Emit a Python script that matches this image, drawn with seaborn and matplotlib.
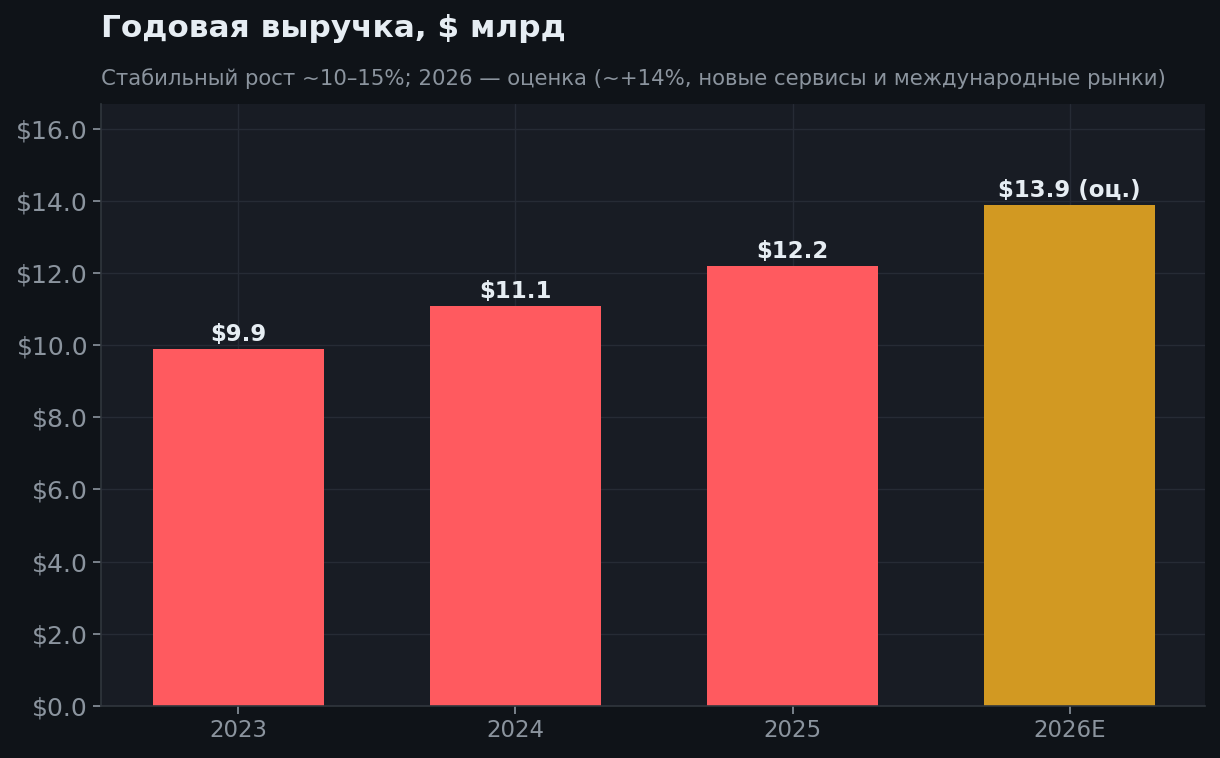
import matplotlib
matplotlib.use("Agg")
import matplotlib.pyplot as plt
import seaborn as sns
import pandas as pd

years = ["2023", "2024", "2025", "2026E"]
revenue = [9.9, 11.1, 12.2, 13.9]
labels = ["$9.9", "$11.1", "$12.2", "$13.9 (оц.)"]
bar_colors = ["#ff5a5f", "#ff5a5f", "#ff5a5f", "#d29922"]

fig_bg = "#0f1318"
ax_bg = "#181c24"
grid_c = "#262b35"
tick_c = "#8b949e"
text_c = "#e6edf3"

sns.set_theme(style="darkgrid")
plt.rcParams["font.family"] = ["DejaVu Sans"]

df = pd.DataFrame({"year": years, "revenue": revenue})

fig, ax = plt.subplots(figsize=(12.2, 7.58), dpi=100)
fig.patch.set_facecolor(fig_bg)
ax.set_facecolor(ax_bg)
fig.subplots_adjust(left=0.083, right=0.988, top=0.863, bottom=0.069)

sns.barplot(data=df, x="year", y="revenue", hue="year", palette=bar_colors,
            legend=False, width=0.62, saturation=1, linewidth=0, ax=ax)

for i, (v, lab) in enumerate(zip(revenue, labels)):
    ax.text(i, v + 0.08, lab, ha="center", va="bottom", color=text_c,
            fontsize=16.5, fontweight="bold")

ax.set_ylim(0, 16.7)
ax.set_xlim(-0.495, 3.49)
ax.set_yticks([0, 2, 4, 6, 8, 10, 12, 14, 16])
ax.set_yticklabels([f"${t:.1f}" for t in ax.get_yticks()])
ax.set_xlabel("")
ax.set_ylabel("")
ax.grid(True, color=grid_c, linewidth=1)
ax.set_axisbelow(True)
ax.tick_params(colors=tick_c, length=6, width=1.2, left=True, bottom=True)
ax.tick_params(axis="y", labelsize=18)
ax.tick_params(axis="x", labelsize=16.5)
for s in ["top", "right"]:
    ax.spines[s].set_visible(False)
for s in ["left", "bottom"]:
    ax.spines[s].set_visible(True)
    ax.spines[s].set_color("#30363d")
    ax.spines[s].set_linewidth(1.2)

fig.text(0.083, 0.962, "Годовая выручка, $ млрд", color=text_c, fontsize=22.4,
         fontweight="bold", ha="left", va="center")
fig.text(0.083, 0.896,
         "Стабильный рост ~10–15%; 2026 — оценка (~+14%, новые сервисы и международные рынки)",
         color=tick_c, fontsize=15.3, ha="left", va="center")

plt.savefig("out.png", dpi=100, facecolor=fig_bg)
